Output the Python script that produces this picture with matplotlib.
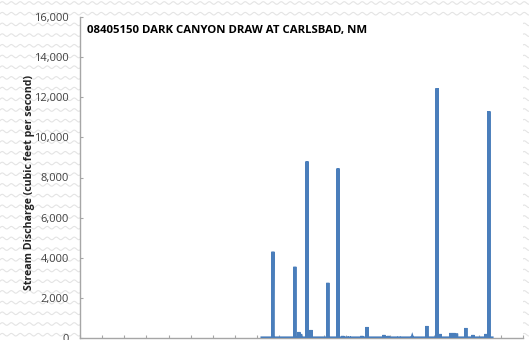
import numpy as np
import matplotlib
matplotlib.use("Agg")
import matplotlib.pyplot as plt
from matplotlib.lines import Line2D

# ---- data ----
title = "08405150 DARK CANYON DRAW AT CARLSBAD, NM"
ylabel = "Stream Discharge (cubic feet per second)"
record_start = 1971.1
record_end = 2023.0
event_years = [1973.55, 1973.5, 1978.5, 1979.4, 1979.8, 1981.25, 1982.15, 1985.95,
               1988.25, 1989.3, 1990.8, 1993.6, 1994.8, 1998.6, 1999.6, 2002.0,
               2005.0, 2008.3, 2010.6, 2011.3, 2013.7, 2014.4, 2015.0, 2017.1,
               2018.7, 2021.6, 2022.3]
event_peaks = [4300, 2000, 3550, 300, 200, 8800, 400, 2750,
               8450, 100, 60, 100, 550, 150, 100, 50,
               40, 600, 12450, 200, 250, 250, 220, 500,
               150, 200, 11300]
yticks = [0, 2000, 4000, 6000, 8000, 10000, 12000, 14000, 16000]
xticks = list(range(1930, 2031, 5))

# ---- build line series: zero baseline with flood spikes ----
hw = 0.06
pts = [(record_start, 0.0), (record_end, 0.0)]
for yr, q in zip(event_years, event_peaks):
    pts += [(yr - hw, 0.0), (yr, q), (yr + hw, 0.0)]
pts.sort(key=lambda p: p[0])
xs = np.array([p[0] for p in pts])
ys = np.array([p[1] for p in pts])

W, H = 529, 340
fig = plt.figure(figsize=(W / 100, H / 100), dpi=100)
fig.patch.set_facecolor("white")

# wavy background pattern
xx = np.linspace(0, 1, 600)
for r in np.arange(3, H + 10, 10.7):
    yy = (H - r + 1.3 * np.sin(2 * np.pi * xx * W / 9.0)) / H
    fig.add_artist(Line2D(xx, yy, transform=fig.transFigure, color="#e4e4e4",
                          lw=0.8, zorder=0))

ax = fig.add_axes([80 / W, 1 - 338 / H, 443 / W, 321 / H])
ax.set_facecolor("white")
ax.set_zorder(2)
ax.plot(xs, ys, color="#4a7ebb", lw=2.3, solid_joinstyle="miter", zorder=3)

ax.set_xlim(1930, 2030)
ax.set_ylim(0, 16000)
ax.set_yticks(yticks)
ax.set_yticklabels([f"{v:,}" for v in yticks], fontsize=8, color="#404040",
                   family="Open Sans")
ax.set_xticks(xticks)
ax.tick_params(axis="x", direction="in", length=2.5, color="#a6a6a6",
               labelbottom=False)
ax.tick_params(axis="y", direction="in", length=2, color="#a6a6a6", pad=8)
for s in ["top", "right"]:
    ax.spines[s].set_visible(False)
for s in ["left", "bottom"]:
    ax.spines[s].set_color("#a6a6a6")
    ax.spines[s].set_linewidth(1.0)

fig.text(87 / W, 1 - 30 / H, title, fontsize=8.2,
         fontweight="bold", family="Open Sans", color="black", va="center",
         ha="left", zorder=5)
fig.text(30 / W, 1 - 182 / H, ylabel, rotation=90, fontsize=7.6, fontweight="bold",
         family="Open Sans", color="#222222", va="center", ha="center")

fig.savefig("out.png", dpi=100, facecolor=fig.get_facecolor())
